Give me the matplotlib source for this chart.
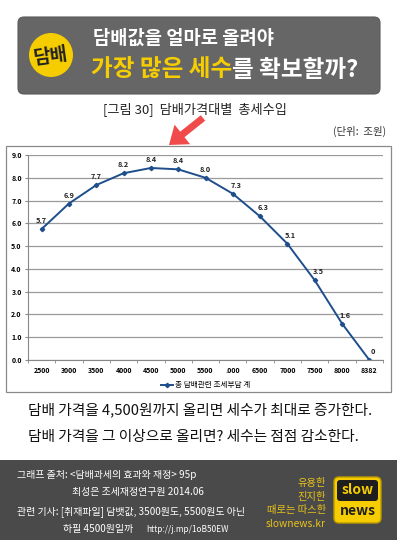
import matplotlib.pyplot as plt
from matplotlib.patches import FancyBboxPatch, Circle, Rectangle, FancyArrow

plt.rcParams['font.family'] = ['Noto Sans CJK KR', 'DejaVu Sans']

prices = ['2500', '3000', '3500', '4000', '4500', '5000', '5500', '.000',
          '6500', '7000', '7500', '8000', '8382']
revenue = [5.75, 6.87, 7.68, 8.2, 8.43, 8.37, 8.0, 7.3, 6.3, 5.1, 3.5, 1.6, 0.0]
value_labels = ['5.7', '6.9', '7.7', '8.2', '8.4', '8.4', '8.0', '7.3', '6.3',
                '5.1', '3.5', '1.6', '0']
series_name = '총 담배관련 조세부담 계'

W, H = 397, 540
fig = plt.figure(figsize=(W / 100, H / 100), dpi=100)
fig.patch.set_facecolor('white')

# full-figure overlay in pixel coords (y downwards)
bg = fig.add_axes([0, 0, 1, 1])
bg.set_xlim(0, W)
bg.set_ylim(H, 0)
bg.axis('off')

# header banner
bg.add_patch(FancyBboxPatch((18, 17), 362, 77, boxstyle='round,pad=0,rounding_size=6',
                            fc='#666666', ec='#5a5a5a', lw=0.8))
bg.add_patch(Circle((51, 55), 22, fc='#f6cd00', ec='none'))
bg.text(51, 56, '담배', ha='center', va='center', fontsize=13.5, fontweight='bold',
        color='#222222', rotation=8)
bg.text(93, 38, '담배값을 얼마로 올려야', ha='left', va='center', fontsize=13.5,
        fontweight='bold', color='white')
t1 = bg.text(91, 70, '가장 많은 세수', ha='left', va='center', fontsize=17,
             fontweight='bold', color='#f6cd00')
fig.canvas.draw()
bb = t1.get_window_extent()
x_end = bb.x1 * W / fig.bbox.width
bg.text(x_end, 70, '를 확보할까?', ha='left', va='center', fontsize=17,
        fontweight='bold', color='white')

# chart captions
bg.text(103, 109, '[그림 30]  담배가격대별  총세수입', ha='left', va='center',
        fontsize=9.5, color='#222222')
bg.text(386, 131, '(단위:  조원)', ha='right', va='center', fontsize=7.5,
        color='#333333')

# chart border
bg.add_patch(Rectangle((6, 146), 385, 246, fc='white', ec='#8a8a8a', lw=0.9))

# main chart
ax = fig.add_axes([28 / W, (H - 360) / H, 355 / W, 205 / H])
x = list(range(len(prices)))
line, = ax.plot(x, revenue, color='#1f4e8c', lw=1.4, marker='D', ms=2.2,
                label=series_name)
for xi, yi, lab in zip(x, revenue, value_labels):
    dx = 0.12 if xi >= 7 else 0
    ax.text(xi + dx, yi + 0.22, lab, ha='center', va='bottom', fontsize=5.3,
            fontweight='bold', color='#222222')
ax.set_xlim(-0.5, len(prices) - 0.5)
ax.set_ylim(0, 9)
ax.set_yticks(range(0, 10))
ax.set_yticklabels([f'{v:.1f}' for v in range(0, 10)])
ax.set_xticks(x)
ax.set_xticklabels(prices)
ax.set_xticks([i + 0.5 for i in x[:-1]] + [-0.5, len(prices) - 0.5], minor=True)
ax.tick_params(axis='x', which='major', length=0, labelsize=5, pad=5)
ax.tick_params(axis='x', which='minor', length=2.5, color='#888888')
ax.tick_params(axis='y', length=2.5, color='#888888', labelsize=5, pad=2)
for lab in ax.get_xticklabels() + ax.get_yticklabels():
    lab.set_fontweight('bold')
ax.grid(axis='y', color='#9a9a9a', lw=0.9)
ax.set_axisbelow(True)
for s in ['top', 'right']:
    ax.spines[s].set_visible(False)
ax.spines['left'].set_color('#888888')
ax.spines['bottom'].set_color('#888888')
ax.legend(loc='upper center', bbox_to_anchor=(0.5, -0.07), frameon=False,
          fontsize=5.5, handlelength=1.6, handletextpad=0.3)

# red arrow pointing at the peak
bg.add_patch(FancyArrow(203, 118, -34, 27, width=7, head_width=25, head_length=17,
                        length_includes_head=True, fc='#f04a4a', ec='none'))

# summary text
bg.text(28, 410, '담배 가격을 4,500원까지 올리면 세수가 최대로 증가한다.', ha='left',
        va='center', fontsize=10.6, color='#111111')
bg.text(28, 437, '담배 가격을 그 이상으로 올리면? 세수는 점점 감소한다.', ha='left',
        va='center', fontsize=10.6, color='#111111')

# footer
bg.add_patch(Rectangle((0, 460), W, 80, fc='#4a4a4a', ec='none'))
foot = dict(ha='left', va='center', fontsize=7.2, color='white')
bg.text(17, 475, '그래프 출처: <담배과세의 효과와 재정> 95p', **foot)
bg.text(72, 492, '최성은 조세재정연구원 2014.06', **foot)
bg.text(17, 512, '관련 기사: [취재파일] 담뱃값, 3500원도, 5500원도 아닌', **foot)
bg.text(63, 529, '하필 4500원일까', **foot)
bg.text(146, 529, 'http://j.mp/1oB50EW', ha='left', va='center', fontsize=6,
        color='white')

yel = '#e9c21a'
for yy, s in zip([483, 497, 510, 524], ['유용한', '진지한', '때로는 따스한', 'slownews.kr']):
    bg.text(326, yy, s, ha='right', va='center', fontsize=7.4, color=yel)

# logo
bg.add_patch(FancyBboxPatch((334, 477), 47, 46, boxstyle='round,pad=0,rounding_size=5',
                            fc='#f6cd00', ec='#b99a00', lw=1))
bg.add_patch(FancyBboxPatch((337, 480), 41, 21, boxstyle='round,pad=0,rounding_size=3',
                            fc='#1e1e1e', ec='none'))
bg.text(357.5, 490, 'slow', ha='center', va='center', fontsize=10, fontweight='bold',
        color='#f6cd00')
bg.text(357.5, 511, 'news', ha='center', va='center', fontsize=10, fontweight='bold',
        color='#1e1e1e')

fig.savefig('out.png', dpi=100)
